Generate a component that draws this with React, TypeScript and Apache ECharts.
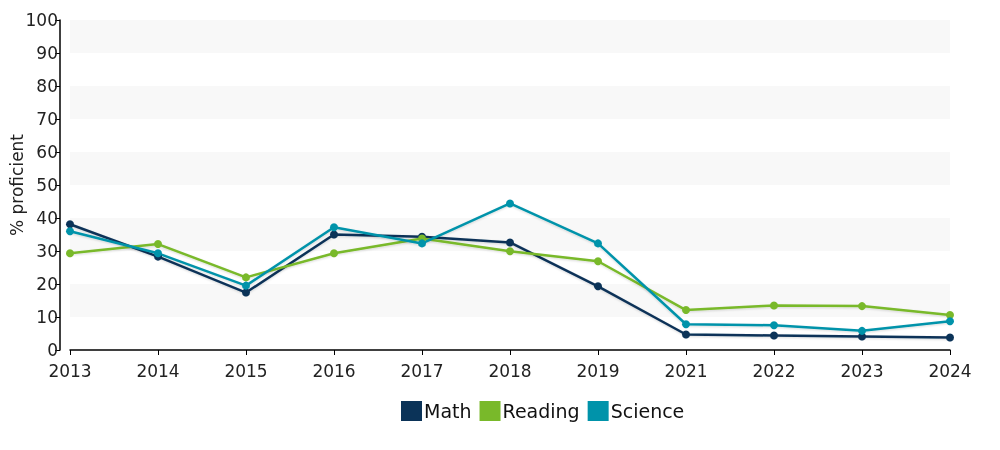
import React, { useEffect, useRef } from "react";
import * as echarts from "echarts";

const years = ["2013", "2014", "2015", "2016", "2017", "2018", "2019", "2021", "2022", "2023", "2024"];
const math = [38.1, 28.3, 17.4, 35.0, 34.3, 32.6, 19.3, 4.7, 4.4, 4.1, 3.8];
const reading = [29.3, 32.1, 22.0, 29.3, 33.8, 29.9, 26.9, 12.1, 13.5, 13.3, 10.6];
const science = [36.0, 29.3, 19.5, 37.2, 32.3, 44.4, 32.3, 7.8, 7.5, 5.8, 8.7];
const yTicks = [0, 10, 20, 30, 40, 50, 60, 70, 80, 90, 100];

const FONT = "DejaVu Sans, Verdana, sans-serif";

export default function App() {
  const ref = useRef<HTMLDivElement>(null);
  useEffect(() => {
    if (!ref.current) return;
    const chart = echarts.init(ref.current, undefined, { renderer: "svg" });
    const mk = (name: string, data: number[], color: string) => ({
      name,
      type: "line",
      data,
      symbol: "circle",
      symbolSize: 8,
      lineStyle: { width: 2.5, color, shadowColor: "rgba(0,0,0,0.15)", shadowBlur: 2, shadowOffsetY: 1 },
      itemStyle: { color },
      emphasis: { disabled: true },
    });
    chart.setOption({
      animation: false,
      textStyle: { fontFamily: FONT },
      grid: { left: 70, right: 50, top: 20, bottom: 100, containLabel: false, outerBoundsMode: "none" },
      legend: {
        bottom: 24,
        left: 396,
        itemWidth: 21,
        itemHeight: 20,
        itemGap: 8,
        icon: "rect",
        textStyle: { fontSize: 19, color: "#111", fontFamily: FONT, padding: [0, 0, 0, -3] },
        data: ["Math", "Reading", "Science"],
      },
      xAxis: {
        type: "category",
        data: years,
        boundaryGap: false,
        offset: 10,
        axisLine: { lineStyle: { color: "#000", width: 1.5 } },
        axisTick: { show: true, length: 5, lineStyle: { color: "#000" } },
        axisLabel: { fontSize: 17, color: "#222", fontFamily: FONT, margin: 2 },
        splitLine: { show: false },
      },
      yAxis: {
        type: "value",
        min: 0,
        max: 100,
        interval: 10,
        offset: 10,
        name: "% proficient",
        nameLocation: "middle",
        nameGap: 35,
        nameMoveOverlap: false,
        nameTextStyle: { fontSize: 17, color: "#222", fontFamily: FONT },
        axisLine: { show: true, lineStyle: { color: "#000", width: 1.5 } },
        axisTick: { show: true, length: 5, lineStyle: { color: "#000" } },
        axisLabel: {
          fontSize: 17,
          color: "#222",
          fontFamily: FONT,
          margin: 2,
          formatter: (v: number) => (yTicks.includes(v) ? String(v) : ""),
        },
        splitLine: { show: false },
        splitArea: { show: true, areaStyle: { color: ["rgba(0,0,0,0)", "#f8f8f8"] } },
      },
      series: [
        mk("Math", math, "#0b3358"),
        mk("Reading", reading, "#79b92a"),
        mk("Science", science, "#0093aa"),
      ],
    });
    return () => chart.dispose();
  }, []);
  return <div ref={ref} style={{ position: "fixed", left: 0, top: 0, width: 1000, height: 450 }} />;
}
